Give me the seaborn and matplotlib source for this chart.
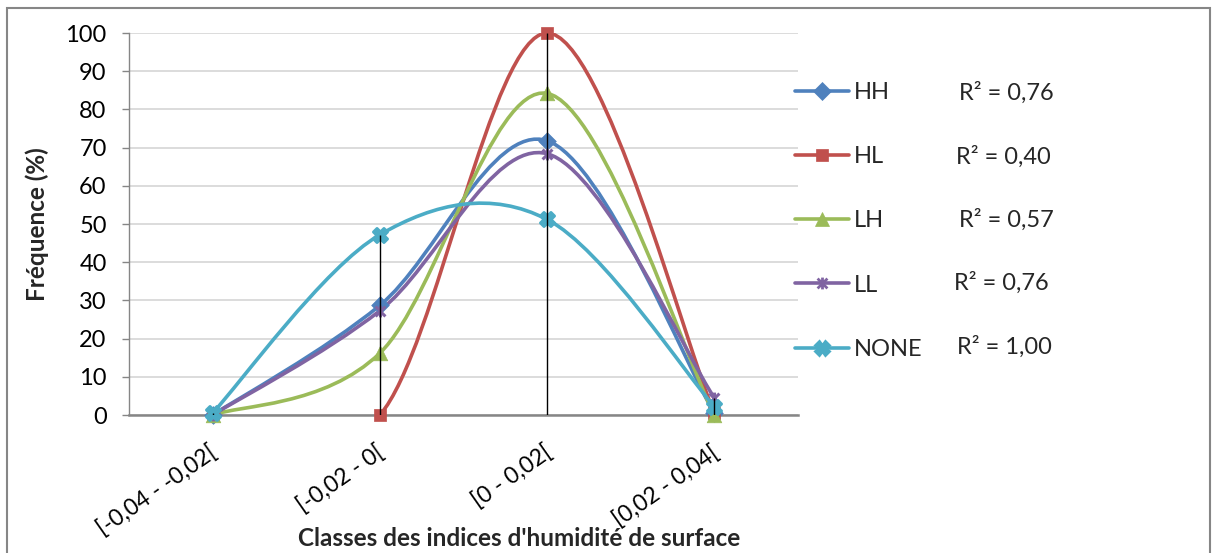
import numpy as np
import pandas as pd
import matplotlib
matplotlib.use("Agg")
import matplotlib.pyplot as plt
import matplotlib.transforms as mtransforms
from matplotlib.path import Path
from matplotlib.patches import PathPatch, Rectangle
from matplotlib.lines import Line2D
import seaborn as sns

# Data
categories = ["[-0,04 - -0,02[", "[-0,02 - 0[", "[0 - 0,02[", "[0,02 - 0,04["]
series_names = ["HH", "HL", "LH", "LL", "NONE"]
hh = [0, 28.7, 71.8, 0.5]
hl = [0, 0, 100, 0.5]
lh = [0, 16.2, 84.2, 0]
ll = [0, 27.3, 68.4, 4.5]
none = [0.5, 47.2, 51.2, 2.2]
r2_labels = ["R² = 0,76", "R² = 0,40", "R² = 0,57", "R² = 0,76", "R² = 1,00"]

colors = ["#4F81BD", "#C0504D", "#9BBB59", "#8064A2", "#4BACC6"]

# Excel "star" marker: x with a vertical bar
star = Path([(-1, -1), (1, 1), (-1, 1), (1, -1), (0, -1.2), (0, 1.2)],
            [Path.MOVETO, Path.LINETO, Path.MOVETO, Path.LINETO, Path.MOVETO, Path.LINETO])
markers = ["D", "s", "^", star, "X"]
msizes = [9, 8, 10.5, 8.5, 10]

sns.set_theme(style="white")
plt.rcParams["font.family"] = ["Lato", "DejaVu Sans"]

idx = np.arange(len(categories))
values = [hh, hl, lh, ll, none]
df = pd.DataFrame({"pos": np.tile(idx, len(series_names)),
                   "freq": np.concatenate(values),
                   "serie": np.repeat(series_names, len(categories))})


def smooth_path(xs, ys):
    # Excel-like smoothed line (Catmull-Rom as cubic Bezier)
    pts = np.column_stack([xs, ys]).astype(float)
    n = len(pts)
    verts = [pts[0]]
    codes = [Path.MOVETO]
    for i in range(n - 1):
        p0 = pts[i - 1] if i > 0 else pts[i]
        p1 = pts[i]
        p2 = pts[i + 1]
        p3 = pts[i + 2] if i + 2 < n else pts[i + 1]
        verts += [p1 + (p2 - p0) / 6, p2 - (p3 - p1) / 6, p2]
        codes += [Path.CURVE4] * 3
    return Path(verts, codes)


fig = plt.figure(figsize=(12.12, 5.53), dpi=100)
ax = fig.add_axes([0.1064, 0.2495, 0.5520, 0.6908])

for name, col, mk, ms in zip(series_names, colors, markers, msizes):
    sub = df[df["serie"] == name]
    ax.add_patch(PathPatch(smooth_path(sub["pos"], sub["freq"]), facecolor="none",
                           edgecolor=col, lw=2.6, capstyle="round", zorder=3))
    line_art = mk is star or mk == "X"
    sns.scatterplot(data=sub, x="pos", y="freq", marker=mk, s=ms ** 2, color=col,
                    edgecolor=col, linewidth=2.2 if line_art else 0.5, ax=ax, zorder=4,
                    clip_on=False, legend=False)

# drop lines
tops = df.groupby("pos")["freq"].max()
ax.vlines(tops.index, 0, tops.values, color="black", lw=1, zorder=5)

ax.set_xlim(-0.5, len(categories) - 0.5)
ax.set_ylim(0, 100)
ax.set_yticks(np.arange(0, 101, 10))
ax.yaxis.grid(True, color="#D9D9D9", lw=1.3)
ax.xaxis.grid(False)
ax.set_axisbelow(True)
for s in ["top", "right"]:
    ax.spines[s].set_visible(False)
ax.spines["left"].set_color("#868686")
ax.spines["bottom"].set_color("#868686")
ax.spines["bottom"].set_linewidth(1.8)
ax.spines["left"].set_linewidth(1.0)
ax.tick_params(axis="y", left=True, length=5, width=1, color="#868686", pad=11,
               labelsize=17, labelcolor="black")
ax.tick_params(axis="x", bottom=False, pad=13, labelsize=16.5, labelcolor="black")
ax.set_xticks(idx)
ax.set_xticklabels(categories, rotation=35, ha="right", va="top", rotation_mode="anchor")
shift = mtransforms.ScaledTranslation(-4 / 100, 0, fig.dpi_scale_trans)
for lab in ax.get_xticklabels():
    lab.set_transform(lab.get_transform() + shift)
ax.set_xlabel("")
ax.set_ylabel("Fréquence (%)", fontsize=17.5, fontweight="bold", labelpad=12)
fig.text(519 / 1212, 1 - 539 / 553, "Classes des indices d'humidité de surface",
         fontsize=17.5, fontweight="bold", ha="center", va="center")

# legend
handles = [Line2D([], [], color=c, lw=2.6, marker=m, markersize=ms,
                  markeredgewidth=2 if (m is star or m == "X") else 0.5)
           for c, m, ms in zip(colors, markers, msizes)]
fig.legend(handles, series_names, loc="upper left", bbox_to_anchor=(795 / 1212, 1 - 82 / 553),
           frameon=False, fontsize=17, handlelength=2.3, handletextpad=0.2,
           labelspacing=1.83, borderaxespad=0, borderpad=0)
row_y = [93, 157, 220, 283, 347]
r2_x = [959, 956, 959, 954, 957]
for y, x, t in zip(row_y, r2_x, r2_labels):
    fig.text(x / 1212, 1 - y / 553, t, fontsize=17, ha="left", va="center")

# chart border
fig.patches.append(Rectangle((7 / 1212, -0.05), 1203 / 1212, 1.05 - 8 / 553,
                             transform=fig.transFigure, fill=False,
                             edgecolor="#868686", lw=1.5, figure=fig))

fig.savefig("out.png", dpi=100)
